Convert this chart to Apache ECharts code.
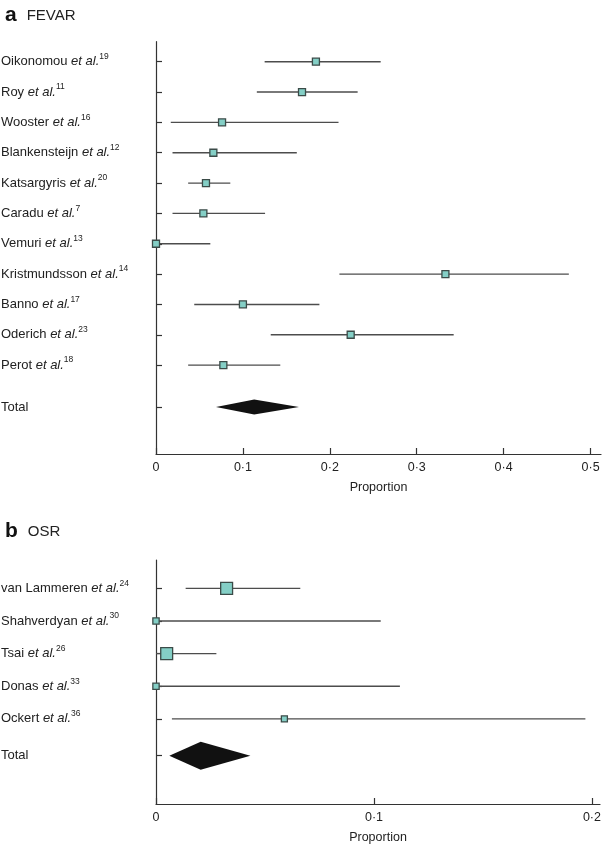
<!DOCTYPE html>
<html>
<head>
<meta charset="utf-8">
<script src="https://cdn.jsdelivr.net/npm/echarts@6/dist/echarts.min.js"></script>
<style>
html,body{margin:0;padding:0;background:#fff;}
#chart{width:603px;height:844px;}
</style>
</head>
<body>
<div id="chart"></div>
<script>
// ---------- Data ----------
const studiesA = ['Oikonomou','Roy','Wooster','Blankensteijn','Katsargyris','Caradu','Vemuri','Kristmundsson','Banno','Oderich','Perot'];
const refsA    = ['19','11','16','12','20','7','13','14','17','23','18'];
const estA     = [0.184, 0.168, 0.076, 0.066, 0.0575, 0.0545, 0, 0.333, 0.100, 0.224, 0.0775];
const lowA     = [0.125, 0.116, 0.017, 0.019, 0.037, 0.019, 0, 0.211, 0.044, 0.132, 0.037];
const highA    = [0.2585, 0.232, 0.210, 0.162, 0.0855, 0.1255, 0.0625, 0.475, 0.188, 0.3425, 0.143];
const totalA   = [0.069, 0.113, 0.1645]; // lower, pooled, upper

const studiesB = ['van Lammeren','Shahverdyan','Tsai','Donas','Ockert'];
const refsB    = ['24','30','26','33','36'];
const estB     = [0.0324, 0, 0.0049, 0, 0.0589];
const lowB     = [0.0136, 0, 0, 0, 0.0073];
const highB    = [0.0662, 0.1031, 0.0277, 0.1119, 0.197];
const weightsB = [3, 1, 3, 1, 0.9]; // relative study weights
const totalB   = [0.0061, 0.0205, 0.0433];

const ticksA = [0, 0.1, 0.2, 0.3, 0.4, 0.5];
const ticksB = [0, 0.1, 0.2];
const totalLabel = 'Total';
const etal = 'et al.';
const xName = 'Proportion';

// ---------- Layout helpers ----------
const FONT = '"Liberation Sans", Arial, Helvetica, sans-serif';
const TXT = '#222';
const totalGapA = 1.38, totalGapB = 1.13;

function rowsOf(n, gap){ const r=[]; for(let i=0;i<n;i++) r.push(i); r.push(n-1+gap); return r; }
const rowsA = rowsOf(studiesA.length, totalGapA);
const rowsB = rowsOf(studiesB.length, totalGapB);

function labelFormatter(studies, refs, rows){
  return function(v){
    let idx = 0, best = 1e9;
    rows.forEach((r,i)=>{ const d=Math.abs(r-v); if(d<best){best=d;idx=i;} });
    if (idx >= studies.length) return '{m|' + totalLabel + '}';
    return '{m|' + studies[idx] + ' }{i|' + etal + '}{s|' + refs[idx] + '}';
  };
}
const rich = {
  m: {fontSize: 13, fontFamily: FONT, color: TXT, lineHeight: 19},
  i: {fontSize: 13, fontFamily: FONT, color: TXT, fontStyle: 'italic', lineHeight: 19},
  s: {fontSize: 8.5, fontFamily: FONT, color: TXT, lineHeight: 4, verticalAlign: 'top'}
};

function fmtTick(v){ return v === 0 ? '0' : v.toFixed(1).replace('.', '\u00B7'); }

function makeX(gridIndex, max, ticks){
  return {
    type: 'value', gridIndex, min: 0, max, position: 'bottom',
    splitLine: {show: false},
    axisLine: {show: true, onZero: false, lineStyle: {color: '#333', width: 1.2}},
    axisTick: {show: true, inside: true, length: 6, customValues: ticks, lineStyle: {color: '#333', width: 1.2}},
    axisLabel: {customValues: ticks, formatter: fmtTick, color: TXT, fontFamily: FONT, fontSize: 12.5, margin: 7},
    name: xName, nameLocation: 'middle', nameGap: 27,
    nameTextStyle: {color: TXT, fontFamily: FONT, fontSize: 12.5}
  };
}
function makeY(gridIndex, min, max, rows, studies, refs){
  return {
    type: 'value', gridIndex, min, max, inverse: true, position: 'left',
    splitLine: {show: false},
    axisLine: {show: true, onZero: false, lineStyle: {color: '#333', width: 1.2}},
    axisTick: {show: true, inside: true, length: 6, customValues: rows, lineStyle: {color: '#333', width: 1.2}},
    axisLabel: {customValues: rows, align: 'left', margin: 155, formatter: labelFormatter(studies, refs, rows), rich}
  };
}

function studyData(low, est, high, rows, weights){
  return est.map((e,i)=>[low[i], e, high[i], rows[i], weights ? weights[i] : 1]);
}

function renderStudy(sizeFn){
  return function(params, api){
    const row = api.value(3);
    const a = api.coord([api.value(0), row]);
    const p = api.coord([api.value(1), row]);
    const b = api.coord([api.value(2), row]);
    const s = sizeFn(api.value(4));
    return {type:'group', children:[
      {type:'line', shape:{x1:a[0], y1:a[1], x2:b[0], y2:b[1]}, style:{stroke:'#4d4d4d', lineWidth:1.4}},
      {type:'rect', shape:{x:p[0]-s/2, y:p[1]-s/2, width:s, height:s}, style:{fill:'#84cfc6', stroke:'#3b4b48', lineWidth:1.3}}
    ]};
  };
}
function renderDiamond(halfH){
  return function(params, api){
    const row = api.value(3);
    const a = api.coord([api.value(0), row]);
    const c = api.coord([api.value(1), row]);
    const b = api.coord([api.value(2), row]);
    return {type:'polygon', shape:{points:[[a[0],a[1]],[c[0],c[1]-halfH],[b[0],b[1]],[c[0],c[1]+halfH]]}, style:{fill:'#111'}};
  };
}

const titleRich = {
  b: {fontSize: 21, fontWeight: 'bold', fontFamily: FONT, color: '#111'},
  n: {fontSize: 15, fontWeight: 'normal', fontFamily: FONT, color: TXT}
};
const option = {
  backgroundColor: '#fff',
  animation: false,
  title: [
    {text: '{b|a}  {n|FEVAR}', left: 0, top: 0, textStyle: {fontWeight: 'normal', rich: titleRich}},
    {text: '{b|b}  {n|OSR}', left: 0, top: 516, textStyle: {fontWeight: 'normal', rich: titleRich}}
  ],
  grid: [
    {left: 156, top: 41.7, width: 445, height: 412.3, outerBoundsMode: 'none', containLabel: false},
    {left: 156, top: 560, width: 444, height: 244, outerBoundsMode: 'none', containLabel: false}
  ],
  xAxis: [makeX(0, 0.512, ticksA), makeX(1, 0.2037, ticksB)],
  yAxis: [makeY(0, -0.66, 12.93, rowsA, studiesA, refsA), makeY(1, -0.87, 6.61, rowsB, studiesB, refsB)],
  series: [
    {type:'custom', xAxisIndex:0, yAxisIndex:0, clip:false, renderItem: renderStudy(()=>7),
     encode:{x:[0,1,2], y:3}, data: studyData(lowA, estA, highA, rowsA)},
    {type:'custom', xAxisIndex:0, yAxisIndex:0, clip:false, renderItem: renderDiamond(7.5),
     encode:{x:[0,1,2], y:3}, data: [[totalA[0], totalA[1], totalA[2], rowsA[rowsA.length-1]]]},
    {type:'custom', xAxisIndex:1, yAxisIndex:1, clip:false, renderItem: renderStudy(w=>3.5 + 2.8*w),
     encode:{x:[0,1,2], y:3}, data: studyData(lowB, estB, highB, rowsB, weightsB)},
    {type:'custom', xAxisIndex:1, yAxisIndex:1, clip:false, renderItem: renderDiamond(14),
     encode:{x:[0,1,2], y:3}, data: [[totalB[0], totalB[1], totalB[2], rowsB[rowsB.length-1]]]}
  ]
};
const chart = echarts.init(document.getElementById('chart'), null, {renderer:'canvas'});
chart.setOption(option);
</script>
</body>
</html>
